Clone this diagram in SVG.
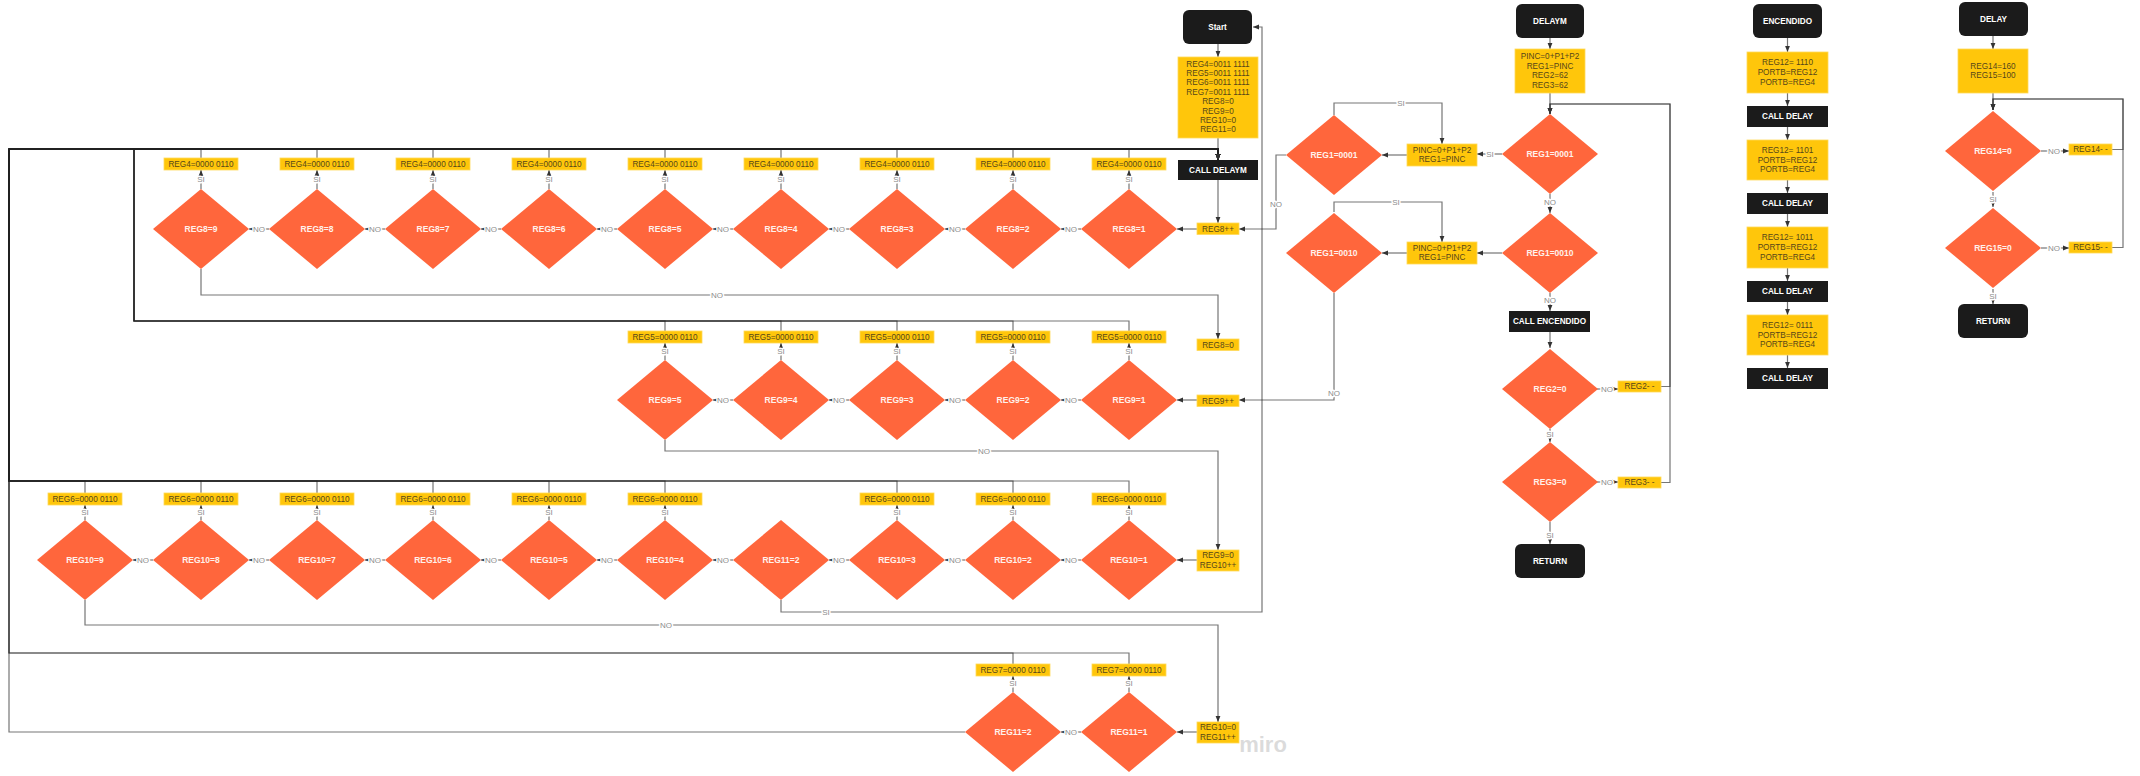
<svg xmlns="http://www.w3.org/2000/svg" width="2140" height="776" viewBox="0 0 2140 776">
<style>
text{font-family:"Liberation Sans",Arial,sans-serif;text-anchor:middle;dominant-baseline:central}
.y{fill:#FFC60B;stroke:#FFD95A;stroke-width:.8}
.yt{font-size:8.2px;fill:#56461a}
.d{fill:#FF663C}
.dt{font-size:8.5px;font-weight:bold;fill:#FFF1EB}
.b{fill:#1B1B1B}
.bt{font-size:8.2px;font-weight:bold;fill:#fff}
.c{fill:none;stroke:#222;stroke-opacity:.62;stroke-width:1.2;marker-end:url(#a)}
.n{fill:none;stroke:#222;stroke-opacity:.62;stroke-width:1.2}
.l{font-size:8px;fill:#8c8c8c;stroke:#fff;stroke-width:3px;paint-order:stroke;stroke-linejoin:round}
</style>
<defs>
<marker id="a" viewBox="0 0 10 10" refX="10" refY="5" markerWidth="6" markerHeight="6" markerUnits="userSpaceOnUse" orient="auto"><path d="M0,1L10,5L0,9z" fill="#333"/></marker>
<path id="dm" class="d" d="M0,-40L48,0L0,40L-48,0Z"/>
</defs>
<rect width="2140" height="776" fill="#fff"/>

<g id="connectors">
<path class="c" d="M201,158V149H1218V160"/>
<path class="c" d="M317,158V149H1218V160"/>
<path class="c" d="M433,158V149H1218V160"/>
<path class="c" d="M549,158V149H1218V160"/>
<path class="c" d="M665,158V149H1218V160"/>
<path class="c" d="M781,158V149H1218V160"/>
<path class="c" d="M897,158V149H1218V160"/>
<path class="c" d="M1013,158V149H1218V160"/>
<path class="c" d="M1129,158V149H1218V160"/>
<path class="c" d="M665,331V321H134V149H1218V160"/>
<path class="c" d="M781,331V321H134V149H1218V160"/>
<path class="c" d="M897,331V321H134V149H1218V160"/>
<path class="c" d="M1013,331V321H134V149H1218V160"/>
<path class="c" d="M1129,331V321H134V149H1218V160"/>
<path class="c" d="M85,493V481H9V149H1218V160"/>
<path class="c" d="M201,493V481H9V149H1218V160"/>
<path class="c" d="M317,493V481H9V149H1218V160"/>
<path class="c" d="M433,493V481H9V149H1218V160"/>
<path class="c" d="M549,493V481H9V149H1218V160"/>
<path class="c" d="M665,493V481H9V149H1218V160"/>
<path class="c" d="M897,493V481H9V149H1218V160"/>
<path class="c" d="M1013,493V481H9V149H1218V160"/>
<path class="c" d="M1129,493V481H9V149H1218V160"/>
<path class="c" d="M1013,664V653H9V149H1218V160"/>
<path class="c" d="M1129,664V653H9V149H1218V160"/>
<path class="c" d="M965,732H9V149H1218V160"/>
<path class="c" d="M1218,44V57"/>
<path class="c" d="M1218,138V160"/>
<path class="c" d="M1218,180V223"/>
<path class="c" d="M1197,229H1177"/>
<path class="c" d="M1197,400H1177"/>
<path class="c" d="M1197,560H1177"/>
<path class="c" d="M1197,732H1177"/>
<path class="c" d="M1081,229H1061"/><path class="c" d="M965,229H945"/><path class="c" d="M849,229H829"/><path class="c" d="M733,229H713"/><path class="c" d="M617,229H597"/><path class="c" d="M501,229H481"/><path class="c" d="M385,229H365"/><path class="c" d="M269,229H249"/>
<path class="c" d="M1081,400H1061"/><path class="c" d="M965,400H945"/><path class="c" d="M849,400H829"/><path class="c" d="M733,400H713"/>
<path class="c" d="M1081,560H1061"/><path class="c" d="M965,560H945"/><path class="c" d="M849,560H829"/><path class="c" d="M733,560H713"/><path class="c" d="M617,560H597"/><path class="c" d="M501,560H481"/><path class="c" d="M385,560H365"/><path class="c" d="M269,560H249"/><path class="c" d="M153,560H133"/>
<path class="c" d="M1081,732H1061"/>
<path class="c" d="M201,189V170"/><path class="c" d="M317,189V170"/><path class="c" d="M433,189V170"/><path class="c" d="M549,189V170"/><path class="c" d="M665,189V170"/><path class="c" d="M781,189V170"/><path class="c" d="M897,189V170"/><path class="c" d="M1013,189V170"/><path class="c" d="M1129,189V170"/>
<path class="c" d="M665,360V343"/><path class="c" d="M781,360V343"/><path class="c" d="M897,360V343"/><path class="c" d="M1013,360V343"/><path class="c" d="M1129,360V343"/>
<path class="c" d="M85,520V505"/><path class="c" d="M201,520V505"/><path class="c" d="M317,520V505"/><path class="c" d="M433,520V505"/><path class="c" d="M549,520V505"/><path class="c" d="M665,520V505"/><path class="c" d="M897,520V505"/><path class="c" d="M1013,520V505"/><path class="c" d="M1129,520V505"/>
<path class="c" d="M1013,692V676"/><path class="c" d="M1129,692V676"/>
<path class="c" d="M201,269V295H1218V339"/>
<path class="c" d="M665,440V451H1218V550"/>
<path class="c" d="M85,600V625H1218V722"/>
<path class="c" d="M781,600V612H1262V27H1253"/>
<path class="c" d="M1550,38V49"/>
<path class="c" d="M1550,93V114"/>
<path class="c" d="M1502,154H1477"/>
<path class="c" d="M1407,155H1382"/>
<path class="c" d="M1334,115V103H1442V144"/>
<path class="c" d="M1286,155H1276V229H1239"/>
<path class="c" d="M1550,194V213"/>
<path class="c" d="M1502,253H1477"/>
<path class="c" d="M1407,253H1382"/>
<path class="c" d="M1334,212V202H1442V242"/>
<path class="c" d="M1334,293V400H1239"/>
<path class="c" d="M1550,293V311"/>
<path class="c" d="M1550,332V348"/>
<path class="c" d="M1597,389H1618"/>
<path class="c" d="M1661,386.5H1670V104H1550V114"/>
<path class="c" d="M1550,429V442"/>
<path class="c" d="M1597,482H1618"/>
<path class="c" d="M1661,482.5H1670V104H1550V114"/>
<path class="c" d="M1550,522V544"/>
<path class="c" d="M1787.5,38V52"/><path class="c" d="M1787.5,93V106"/><path class="c" d="M1787.5,127V140"/><path class="c" d="M1787.5,180V193"/><path class="c" d="M1787.5,214V227"/><path class="c" d="M1787.5,268V281"/><path class="c" d="M1787.5,302V315"/><path class="c" d="M1787.5,355V368"/>
<path class="c" d="M1993,36V49"/>
<path class="c" d="M1993,93V110"/>
<path class="c" d="M2041,151H2069"/>
<path class="c" d="M2112,149.5H2123V99H1993V110"/>
<path class="c" d="M1993,192V207"/>
<path class="c" d="M2041,248H2069"/>
<path class="c" d="M2112,247.5H2123V99H1993V110"/>
<path class="c" d="M1993,289V304"/>
<g class="lbls">
<text class="l" x="1071" y="229">NO</text><text class="l" x="955" y="229">NO</text><text class="l" x="839" y="229">NO</text><text class="l" x="723" y="229">NO</text><text class="l" x="607" y="229">NO</text><text class="l" x="491" y="229">NO</text><text class="l" x="375" y="229">NO</text><text class="l" x="259" y="229">NO</text>
<text class="l" x="1071" y="400">NO</text><text class="l" x="955" y="400">NO</text><text class="l" x="839" y="400">NO</text><text class="l" x="723" y="400">NO</text>
<text class="l" x="1071" y="560">NO</text><text class="l" x="955" y="560">NO</text><text class="l" x="839" y="560">NO</text><text class="l" x="723" y="560">NO</text><text class="l" x="607" y="560">NO</text><text class="l" x="491" y="560">NO</text><text class="l" x="375" y="560">NO</text><text class="l" x="259" y="560">NO</text><text class="l" x="143" y="560">NO</text>
<text class="l" x="1071" y="732">NO</text>
<text class="l" x="201" y="179">SI</text><text class="l" x="317" y="179">SI</text><text class="l" x="433" y="179">SI</text><text class="l" x="549" y="179">SI</text><text class="l" x="665" y="179">SI</text><text class="l" x="781" y="179">SI</text><text class="l" x="897" y="179">SI</text><text class="l" x="1013" y="179">SI</text><text class="l" x="1129" y="179">SI</text>
<text class="l" x="665" y="351">SI</text><text class="l" x="781" y="351">SI</text><text class="l" x="897" y="351">SI</text><text class="l" x="1013" y="351">SI</text><text class="l" x="1129" y="351">SI</text>
<text class="l" x="85" y="512">SI</text><text class="l" x="201" y="512">SI</text><text class="l" x="317" y="512">SI</text><text class="l" x="433" y="512">SI</text><text class="l" x="549" y="512">SI</text><text class="l" x="665" y="512">SI</text><text class="l" x="897" y="512">SI</text><text class="l" x="1013" y="512">SI</text><text class="l" x="1129" y="512">SI</text>
<text class="l" x="1013" y="683">SI</text><text class="l" x="1129" y="683">SI</text>
<text class="l" x="717" y="295">NO</text>
<text class="l" x="984" y="451">NO</text>
<text class="l" x="666" y="625">NO</text>
<text class="l" x="826" y="612">SI</text>
<text class="l" x="1490" y="154">SI</text>
<text class="l" x="1401" y="103">SI</text>
<text class="l" x="1276" y="204">NO</text>
<text class="l" x="1550" y="202">NO</text>
<text class="l" x="1396" y="202">SI</text>
<text class="l" x="1334" y="393">NO</text>
<text class="l" x="1550" y="300">NO</text>
<text class="l" x="1607" y="389">NO</text>
<text class="l" x="1550" y="434">SI</text>
<text class="l" x="1607" y="482">NO</text>
<text class="l" x="1550" y="535">SI</text>
<text class="l" x="2054" y="151">NO</text>
<text class="l" x="1993" y="199">SI</text>
<text class="l" x="2054" y="248">NO</text>
<text class="l" x="1993" y="296">SI</text>
</g>
</g>

<g id="start"><rect class="b" x="1183" y="10" width="69" height="34" rx="6"/><text class="bt" x="1217.5" y="27">Start</text></g>
<g id="init"><rect class="y" x="1178" y="57" width="80" height="81"/>
<text class="yt" x="1218" y="64">REG4=0011 1111</text><text class="yt" x="1218" y="73.4">REG5=0011 1111</text><text class="yt" x="1218" y="82.8">REG6=0011 1111</text><text class="yt" x="1218" y="92.2">REG7=0011 1111</text><text class="yt" x="1218" y="101.6">REG8=0</text><text class="yt" x="1218" y="111">REG9=0</text><text class="yt" x="1218" y="120.4">REG10=0</text><text class="yt" x="1218" y="129.8">REG11=0</text></g>
<g id="calldelaym"><rect class="b" x="1178" y="160" width="80" height="20"/><text class="bt" x="1218" y="170">CALL DELAYM</text></g>
<g id="reg8inc"><rect class="y" x="1197" y="223" width="42" height="11.5"/><text class="yt" x="1218" y="229">REG8++</text></g>
<g id="reg8zero"><rect class="y" x="1197" y="339" width="42" height="11.5"/><text class="yt" x="1218" y="345">REG8=0</text></g>
<g id="reg9inc"><rect class="y" x="1197" y="395" width="42" height="11.5"/><text class="yt" x="1218" y="401">REG9++</text></g>
<g id="reg9zero"><rect class="y" x="1197" y="550" width="42" height="21"/><text class="yt" x="1218" y="555.5">REG9=0</text><text class="yt" x="1218" y="565.5">REG10++</text></g>
<g id="reg10zero"><rect class="y" x="1197" y="722" width="42" height="21"/><text class="yt" x="1218" y="727.5">REG10=0</text><text class="yt" x="1218" y="737.5">REG11++</text></g>

<g id="r1d9"><use href="#dm" x="201" y="229"/><text class="dt" x="201" y="229">REG8=9</text></g>
<g id="r1d8"><use href="#dm" x="317" y="229"/><text class="dt" x="317" y="229">REG8=8</text></g>
<g id="r1d7"><use href="#dm" x="433" y="229"/><text class="dt" x="433" y="229">REG8=7</text></g>
<g id="r1d6"><use href="#dm" x="549" y="229"/><text class="dt" x="549" y="229">REG8=6</text></g>
<g id="r1d5"><use href="#dm" x="665" y="229"/><text class="dt" x="665" y="229">REG8=5</text></g>
<g id="r1d4"><use href="#dm" x="781" y="229"/><text class="dt" x="781" y="229">REG8=4</text></g>
<g id="r1d3"><use href="#dm" x="897" y="229"/><text class="dt" x="897" y="229">REG8=3</text></g>
<g id="r1d2"><use href="#dm" x="1013" y="229"/><text class="dt" x="1013" y="229">REG8=2</text></g>
<g id="r1d1"><use href="#dm" x="1129" y="229"/><text class="dt" x="1129" y="229">REG8=1</text></g>
<g id="r1l9"><rect class="y" x="164" y="158" width="74" height="12"/><text class="yt" x="201" y="164">REG4=0000 0110</text></g>
<g id="r1l8"><rect class="y" x="280" y="158" width="74" height="12"/><text class="yt" x="317" y="164">REG4=0000 0110</text></g>
<g id="r1l7"><rect class="y" x="396" y="158" width="74" height="12"/><text class="yt" x="433" y="164">REG4=0000 0110</text></g>
<g id="r1l6"><rect class="y" x="512" y="158" width="74" height="12"/><text class="yt" x="549" y="164">REG4=0000 0110</text></g>
<g id="r1l5"><rect class="y" x="628" y="158" width="74" height="12"/><text class="yt" x="665" y="164">REG4=0000 0110</text></g>
<g id="r1l4"><rect class="y" x="744" y="158" width="74" height="12"/><text class="yt" x="781" y="164">REG4=0000 0110</text></g>
<g id="r1l3"><rect class="y" x="860" y="158" width="74" height="12"/><text class="yt" x="897" y="164">REG4=0000 0110</text></g>
<g id="r1l2"><rect class="y" x="976" y="158" width="74" height="12"/><text class="yt" x="1013" y="164">REG4=0000 0110</text></g>
<g id="r1l1"><rect class="y" x="1092" y="158" width="74" height="12"/><text class="yt" x="1129" y="164">REG4=0000 0110</text></g>

<g id="r2d5"><use href="#dm" x="665" y="400"/><text class="dt" x="665" y="400">REG9=5</text></g>
<g id="r2d4"><use href="#dm" x="781" y="400"/><text class="dt" x="781" y="400">REG9=4</text></g>
<g id="r2d3"><use href="#dm" x="897" y="400"/><text class="dt" x="897" y="400">REG9=3</text></g>
<g id="r2d2"><use href="#dm" x="1013" y="400"/><text class="dt" x="1013" y="400">REG9=2</text></g>
<g id="r2d1"><use href="#dm" x="1129" y="400"/><text class="dt" x="1129" y="400">REG9=1</text></g>
<g id="r2l5"><rect class="y" x="628" y="331" width="74" height="12"/><text class="yt" x="665" y="337">REG5=0000 0110</text></g>
<g id="r2l4"><rect class="y" x="744" y="331" width="74" height="12"/><text class="yt" x="781" y="337">REG5=0000 0110</text></g>
<g id="r2l3"><rect class="y" x="860" y="331" width="74" height="12"/><text class="yt" x="897" y="337">REG5=0000 0110</text></g>
<g id="r2l2"><rect class="y" x="976" y="331" width="74" height="12"/><text class="yt" x="1013" y="337">REG5=0000 0110</text></g>
<g id="r2l1"><rect class="y" x="1092" y="331" width="74" height="12"/><text class="yt" x="1129" y="337">REG5=0000 0110</text></g>

<g id="r3d9"><use href="#dm" x="85" y="560"/><text class="dt" x="85" y="560">REG10=9</text></g>
<g id="r3d8"><use href="#dm" x="201" y="560"/><text class="dt" x="201" y="560">REG10=8</text></g>
<g id="r3d7"><use href="#dm" x="317" y="560"/><text class="dt" x="317" y="560">REG10=7</text></g>
<g id="r3d6"><use href="#dm" x="433" y="560"/><text class="dt" x="433" y="560">REG10=6</text></g>
<g id="r3d5"><use href="#dm" x="549" y="560"/><text class="dt" x="549" y="560">REG10=5</text></g>
<g id="r3d4"><use href="#dm" x="665" y="560"/><text class="dt" x="665" y="560">REG10=4</text></g>
<g id="r3e2"><use href="#dm" x="781" y="560"/><text class="dt" x="781" y="560">REG11=2</text></g>
<g id="r3d3"><use href="#dm" x="897" y="560"/><text class="dt" x="897" y="560">REG10=3</text></g>
<g id="r3d2"><use href="#dm" x="1013" y="560"/><text class="dt" x="1013" y="560">REG10=2</text></g>
<g id="r3d1"><use href="#dm" x="1129" y="560"/><text class="dt" x="1129" y="560">REG10=1</text></g>
<g id="r3l9"><rect class="y" x="48" y="493" width="74" height="12"/><text class="yt" x="85" y="499">REG6=0000 0110</text></g>
<g id="r3l8"><rect class="y" x="164" y="493" width="74" height="12"/><text class="yt" x="201" y="499">REG6=0000 0110</text></g>
<g id="r3l7"><rect class="y" x="280" y="493" width="74" height="12"/><text class="yt" x="317" y="499">REG6=0000 0110</text></g>
<g id="r3l6"><rect class="y" x="396" y="493" width="74" height="12"/><text class="yt" x="433" y="499">REG6=0000 0110</text></g>
<g id="r3l5"><rect class="y" x="512" y="493" width="74" height="12"/><text class="yt" x="549" y="499">REG6=0000 0110</text></g>
<g id="r3l4"><rect class="y" x="628" y="493" width="74" height="12"/><text class="yt" x="665" y="499">REG6=0000 0110</text></g>
<g id="r3l3"><rect class="y" x="860" y="493" width="74" height="12"/><text class="yt" x="897" y="499">REG6=0000 0110</text></g>
<g id="r3l2"><rect class="y" x="976" y="493" width="74" height="12"/><text class="yt" x="1013" y="499">REG6=0000 0110</text></g>
<g id="r3l1"><rect class="y" x="1092" y="493" width="74" height="12"/><text class="yt" x="1129" y="499">REG6=0000 0110</text></g>

<g id="r4d2"><use href="#dm" x="1013" y="732"/><text class="dt" x="1013" y="732">REG11=2</text></g>
<g id="r4d1"><use href="#dm" x="1129" y="732"/><text class="dt" x="1129" y="732">REG11=1</text></g>
<g id="r4l2"><rect class="y" x="976" y="664" width="74" height="12"/><text class="yt" x="1013" y="670">REG7=0000 0110</text></g>
<g id="r4l1"><rect class="y" x="1092" y="664" width="74" height="12"/><text class="yt" x="1129" y="670">REG7=0000 0110</text></g>

<g id="delaym"><rect class="b" x="1516" y="4" width="68" height="34" rx="6"/><text class="bt" x="1550" y="21">DELAYM</text></g>
<g id="pinc0"><rect class="y" x="1515" y="49" width="70" height="44"/><text class="yt" x="1550" y="56.5">PINC=0+P1+P2</text><text class="yt" x="1550" y="66">REG1=PINC</text><text class="yt" x="1550" y="75.5">REG2=62</text><text class="yt" x="1550" y="85">REG3=62</text></g>
<g id="q1"><use href="#dm" x="1550" y="154"/><text class="dt" x="1550" y="154">REG1=0001</text></g>
<g id="pinc1"><rect class="y" x="1407" y="144" width="70" height="22"/><text class="yt" x="1442" y="150">PINC=0+P1+P2</text><text class="yt" x="1442" y="159.5">REG1=PINC</text></g>
<g id="q1b"><use href="#dm" x="1334" y="155"/><text class="dt" x="1334" y="155">REG1=0001</text></g>
<g id="q2"><use href="#dm" x="1550" y="253"/><text class="dt" x="1550" y="253">REG1=0010</text></g>
<g id="pinc2"><rect class="y" x="1407" y="242" width="70" height="22"/><text class="yt" x="1442" y="248">PINC=0+P1+P2</text><text class="yt" x="1442" y="257.5">REG1=PINC</text></g>
<g id="q2b"><use href="#dm" x="1334" y="253"/><text class="dt" x="1334" y="253">REG1=0010</text></g>
<g id="callenc"><rect class="b" x="1509" y="311" width="81" height="21"/><text class="bt" x="1549.5" y="321.5">CALL ENCENDIDO</text></g>
<g id="q3"><use href="#dm" x="1550" y="389"/><text class="dt" x="1550" y="389">REG2=0</text></g>
<g id="reg2dec"><rect class="y" x="1618" y="381" width="43" height="11"/><text class="yt" x="1639.5" y="386.5">REG2- -</text></g>
<g id="q4"><use href="#dm" x="1550" y="482"/><text class="dt" x="1550" y="482">REG3=0</text></g>
<g id="reg3dec"><rect class="y" x="1618" y="477" width="43" height="11"/><text class="yt" x="1639.5" y="482.5">REG3- -</text></g>
<g id="ret1"><rect class="b" x="1515" y="544" width="70" height="34" rx="6"/><text class="bt" x="1550" y="561">RETURN</text></g>

<g id="enc"><rect class="b" x="1753" y="4" width="69" height="34" rx="6"/><text class="bt" x="1787.5" y="21">ENCENDIDO</text></g>
<g id="e1"><rect class="y" x="1747" y="52" width="81" height="41"/><text class="yt" x="1787.5" y="62.8">REG12= 1110</text><text class="yt" x="1787.5" y="72.5">PORTB=REG12</text><text class="yt" x="1787.5" y="82.2">PORTB=REG4</text></g>
<g id="cd1"><rect class="b" x="1747" y="106" width="81" height="21"/><text class="bt" x="1787.5" y="116.5">CALL DELAY</text></g>
<g id="e2"><rect class="y" x="1747" y="140" width="81" height="40"/><text class="yt" x="1787.5" y="150.3">REG12= 1101</text><text class="yt" x="1787.5" y="160">PORTB=REG12</text><text class="yt" x="1787.5" y="169.7">PORTB=REG4</text></g>
<g id="cd2"><rect class="b" x="1747" y="193" width="81" height="21"/><text class="bt" x="1787.5" y="203.5">CALL DELAY</text></g>
<g id="e3"><rect class="y" x="1747" y="227" width="81" height="41"/><text class="yt" x="1787.5" y="237.8">REG12= 1011</text><text class="yt" x="1787.5" y="247.5">PORTB=REG12</text><text class="yt" x="1787.5" y="257.2">PORTB=REG4</text></g>
<g id="cd3"><rect class="b" x="1747" y="281" width="81" height="21"/><text class="bt" x="1787.5" y="291.5">CALL DELAY</text></g>
<g id="e4"><rect class="y" x="1747" y="315" width="81" height="40"/><text class="yt" x="1787.5" y="325.3">REG12= 0111</text><text class="yt" x="1787.5" y="335">PORTB=REG12</text><text class="yt" x="1787.5" y="344.7">PORTB=REG4</text></g>
<g id="cd4"><rect class="b" x="1747" y="368" width="81" height="21"/><text class="bt" x="1787.5" y="378.5">CALL DELAY</text></g>

<g id="delay"><rect class="b" x="1959" y="2" width="69" height="34" rx="6"/><text class="bt" x="1993.5" y="19">DELAY</text></g>
<g id="dinit"><rect class="y" x="1958" y="49" width="70" height="44"/><text class="yt" x="1993" y="66.5">REG14=160</text><text class="yt" x="1993" y="75.5">REG15=100</text></g>
<g id="q14"><use href="#dm" x="1993" y="151"/><text class="dt" x="1993" y="151">REG14=0</text></g>
<g id="reg14dec"><rect class="y" x="2069" y="144" width="43" height="11"/><text class="yt" x="2090.5" y="149.5">REG14- -</text></g>
<g id="q15"><use href="#dm" x="1993" y="248"/><text class="dt" x="1993" y="248">REG15=0</text></g>
<g id="reg15dec"><rect class="y" x="2069" y="242" width="43" height="11"/><text class="yt" x="2090.5" y="247.5">REG15- -</text></g>
<g id="ret2"><rect class="b" x="1958" y="304" width="70" height="34" rx="6"/><text class="bt" x="1993" y="321">RETURN</text></g>

<text x="1263" y="744" style="font-size:22px;font-weight:bold;fill:#c4c4c4;fill-opacity:.6">miro</text>
</svg>
